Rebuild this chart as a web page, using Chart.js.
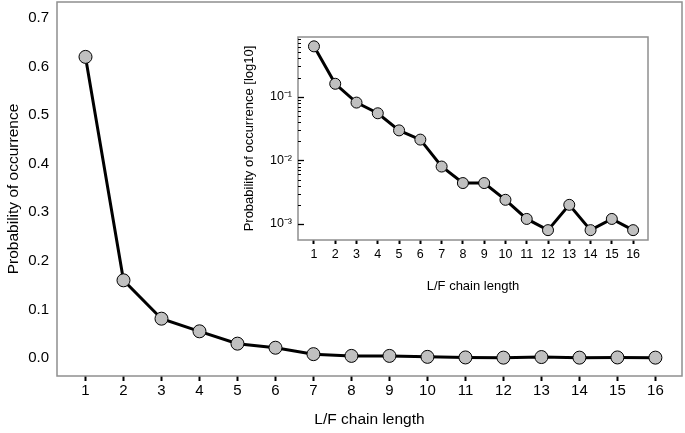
<!DOCTYPE html>
<html>
<head>
<meta charset="utf-8">
<script src="https://cdn.jsdelivr.net/npm/chart.js@4/dist/chart.umd.min.js"></script>
<style>
html,body{margin:0;padding:0;background:#fff;}
#wrap{position:relative;width:685px;height:433px;}
#main{position:absolute;left:0;top:0;}
#inset{position:absolute;left:238px;top:28px;}
</style>
</head>
<body>
<div id="wrap">
<canvas id="main" width="685" height="433"></canvas>
<canvas id="inset" width="420" height="270"></canvas>
</div>
<script>
const categories = [1,2,3,4,5,6,7,8,9,10,11,12,13,14,15,16];
const probabilities = [0.62,0.16,0.081,0.055,0.0296,0.0212,0.008,0.0044,0.0044,0.0024,0.0012,0.0008,0.002,0.0008,0.0012,0.0008];
const mainYTicks = [0.0,0.1,0.2,0.3,0.4,0.5,0.6,0.7];
const insetMajorTicks = [0.001,0.01,0.1];
const insetTickLabels = {"0.001":"10\u207B\u00B3","0.01":"10\u207B\u00B2","0.1":"10\u207B\u00B9"};
const xTitle = "L/F chain length";
const mainYTitle = "Probability of occurrence";
const insetYTitle = "Probability of occurrence [log10]";

const FONT = "'Liberation Sans', Arial, sans-serif";
const points = categories.map((c,i)=>({x:c,y:probabilities[i]}));

const frame = {
  id:'frame',
  afterDraw(chart){
    const a = chart.chartArea, ctx = chart.ctx;
    ctx.save();
    ctx.strokeStyle = '#8f8f8f';
    ctx.lineWidth = 1.5;
    ctx.strokeRect(a.left, a.top, a.right-a.left, a.bottom-a.top);
    ctx.restore();
  }
};
const whiteBg = {
  id:'whiteBg',
  beforeDraw(chart){
    const ctx = chart.ctx;
    ctx.save(); ctx.fillStyle='#fff'; ctx.fillRect(0,0,chart.width,chart.height); ctx.restore();
  }
};
// inward log ticks on the inset y axis, positioned by the scale itself
const innerLogTicks = {
  id:'innerLogTicks',
  afterDraw(chart){
    const s = chart.scales.y, a = chart.chartArea, ctx = chart.ctx;
    ctx.save();
    ctx.strokeStyle = '#000';
    s.ticks.forEach(t=>{
      const y = Math.round(s.getPixelForValue(t.value)) + 0.5;
      ctx.lineWidth = t.major ? 1.3 : 1;
      ctx.beginPath();
      ctx.moveTo(a.left, y);
      ctx.lineTo(a.left + (t.major ? 6 : 3), y);
      ctx.stroke();
    });
    ctx.restore();
  }
};

function fixWidth(w){ return function(s){ s.width = w; s.paddingTop = 0; s.paddingBottom = 0; }; }
function fixHeight(h){ return function(s){ s.height = h; s.paddingLeft = 0; s.paddingRight = 0; }; }

new Chart(document.getElementById('main'), {
  type:'line',
  data:{datasets:[{
    data:points,
    borderColor:'#000', borderWidth:3,
    pointBackgroundColor:'#c0c0c0', pointBorderColor:'#000', pointBorderWidth:1,
    pointRadius:6.5, tension:0, clip:false
  }]},
  options:{
    responsive:false, animation:false, events:[],
    layout:{autoPadding:false, padding:{top:2,right:3,left:0,bottom:0}},
    plugins:{legend:{display:false},tooltip:{enabled:false}},
    scales:{
      x:{type:'linear', min:0.25, max:16.7,
        afterBuildTicks(s){ s.ticks = categories.map(v=>({value:v})); },
        afterFit: fixHeight(57),
        grid:{drawOnChartArea:false, color:'#000', tickLength:5, tickWidth:2},
        border:{display:false},
        ticks:{color:'#000', font:{family:FONT,size:15}, padding:1, maxRotation:0, autoSkip:false},
        title:{display:true, text:xTitle, color:'#000', font:{family:FONT,size:15.5}, padding:{top:9}}
      },
      y:{type:'linear', min:-0.037, max:0.733,
        afterBuildTicks(s){ s.ticks = mainYTicks.map(v=>({value:v})); },
        afterFit: fixWidth(57),
        grid:{drawOnChartArea:false, drawTicks:false},
        border:{display:false},
        ticks:{color:'#000', font:{family:FONT,size:15}, padding:8, callback:v=>v.toFixed(1)},
        title:{display:true, text:mainYTitle, color:'#000', font:{family:FONT,size:15.5}, padding:{bottom:4}}
      }
    }
  },
  plugins:[frame]
});

new Chart(document.getElementById('inset'), {
  type:'line',
  data:{datasets:[{
    data:points,
    borderColor:'#000', borderWidth:3,
    pointBackgroundColor:'#c0c0c0', pointBorderColor:'#000', pointBorderWidth:1,
    pointRadius:5.5, tension:0, clip:false
  }]},
  options:{
    responsive:false, animation:false, events:[],
    layout:{autoPadding:false, padding:{top:9,right:10,left:0,bottom:0}},
    plugins:{legend:{display:false},tooltip:{enabled:false}},
    scales:{
      x:{type:'linear', min:0.25, max:16.7,
        afterBuildTicks(s){ s.ticks = categories.map(v=>({value:v})); },
        afterFit: fixHeight(58),
        grid:{drawOnChartArea:false, color:'#000', tickLength:4, tickWidth:2},
        border:{display:false},
        ticks:{color:'#000', font:{family:FONT,size:12.5}, padding:3, maxRotation:0, autoSkip:false},
        title:{display:true, text:xTitle, color:'#000', font:{family:FONT,size:13}, padding:{top:7}}
      },
      y:{type:'logarithmic', min:0.00056, max:0.87,
        afterBuildTicks(s){
          const t=[];
          insetMajorTicks.concat([1]).forEach(d=>{
            for(let m=1;m<10;m++){ const v=d*m; if(v>=s.min && v<=s.max) t.push({value:v, major:m===1}); }
          });
          s.ticks = t;
        },
        afterFit: fixWidth(60),
        grid:{display:false, drawOnChartArea:false, drawTicks:false},
        border:{display:false},
        ticks:{color:'#000', font:{family:FONT,size:12.5}, padding:6, autoSkip:false,
          callback:(v)=>{ const k = Object.keys(insetTickLabels).find(x=>Math.abs(parseFloat(x)-v)/v<1e-6); return k?insetTickLabels[k]:''; }},
        title:{display:true, text:insetYTitle, color:'#000', font:{family:FONT,size:13}, padding:{bottom:1}}
      }
    }
  },
  plugins:[whiteBg, frame, innerLogTicks]
});
</script>
</body>
</html>
